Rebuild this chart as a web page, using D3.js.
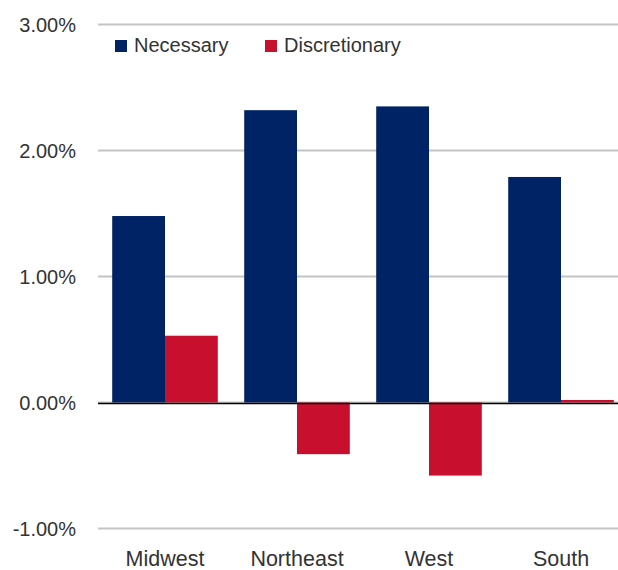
<!DOCTYPE html>
<html>
<head>
<meta charset="utf-8">
<script src="https://cdn.jsdelivr.net/npm/d3@7"></script>
<style>
  html, body { margin: 0; padding: 0; background: #fff; }
  svg text { font-family: "Liberation Sans", Arial, sans-serif; fill: #333; }
</style>
</head>
<body>
<svg id="chart" width="618" height="570"></svg>
<script>
// Regional spending growth by category
const regions = ["Midwest", "Northeast", "West", "South"];
const seriesNames = ["Necessary", "Discretionary"];
const necessary = [1.48, 2.32, 2.35, 1.79];
const discretionary = [0.53, -0.41, -0.58, 0.02];
const yTicks = [-1, 0, 1, 2, 3];
const colors = ["#002366", "#c8102e"];

const svg = d3.select("#chart");

const x = d3.scaleBand().domain(regions).range([99, 627])
  .paddingInner(0.2).paddingOuter(0.1);
const xSeries = d3.scaleBand().domain(seriesNames).range([0, x.bandwidth()]);
const y = d3.scaleLinear().domain([-1, 3]).range([528.5, 24.5]);

// percent labels with a plain hyphen for negatives
const pct = d => (d < 0 ? "-" : "") + Math.abs(d).toFixed(2) + "%";

// horizontal gridlines
svg.append("g").selectAll("line").data(yTicks).join("line")
  .attr("x1", 98).attr("x2", 627)
  .attr("y1", d => y(d)).attr("y2", d => y(d))
  .attr("stroke", "#c4c4c4").attr("stroke-width", 2);

// y tick labels
svg.append("g").selectAll("text").data(yTicks).join("text")
  .attr("x", 76).attr("y", d => y(d))
  .attr("dy", "0.36em")
  .attr("text-anchor", "end")
  .style("font-size", "20px")
  .text(pct);

// bars
const rows = regions.map((r, i) => ({ region: r, values: [necessary[i], discretionary[i]] }));
svg.append("g").selectAll("g").data(rows).join("g")
  .attr("transform", d => `translate(${x(d.region)},0)`)
  .selectAll("rect")
  .data(d => d.values.map((v, j) => ({ key: seriesNames[j], value: v, color: colors[j] })))
  .join("rect")
  .attr("x", d => xSeries(d.key))
  .attr("width", xSeries.bandwidth())
  .attr("y", d => y(Math.max(0, d.value)))
  .attr("height", d => Math.abs(y(d.value) - y(0)))
  .attr("fill", d => d.color);

// zero axis line
svg.append("line")
  .attr("x1", 98).attr("x2", 627)
  .attr("y1", y(0) + 1).attr("y2", y(0) + 1)
  .attr("stroke", "#000").attr("stroke-width", 1.5);

// category labels
svg.append("g").selectAll("text").data(regions).join("text")
  .attr("x", d => x(d) + x.bandwidth() / 2)
  .attr("y", 566)
  .attr("text-anchor", "middle")
  .style("font-size", "21.5px")
  .text(d => d);

// legend
const legendX = [115, 265];
const legend = svg.append("g").selectAll("g").data(seriesNames).join("g")
  .attr("transform", (d, i) => `translate(${legendX[i]},40)`);
legend.append("rect").attr("width", 12).attr("height", 12)
  .attr("fill", (d, i) => colors[i]);
legend.append("text").attr("x", 19).attr("y", 12)
  .style("font-size", "20px")
  .text(d => d);
</script>
</body>
</html>
